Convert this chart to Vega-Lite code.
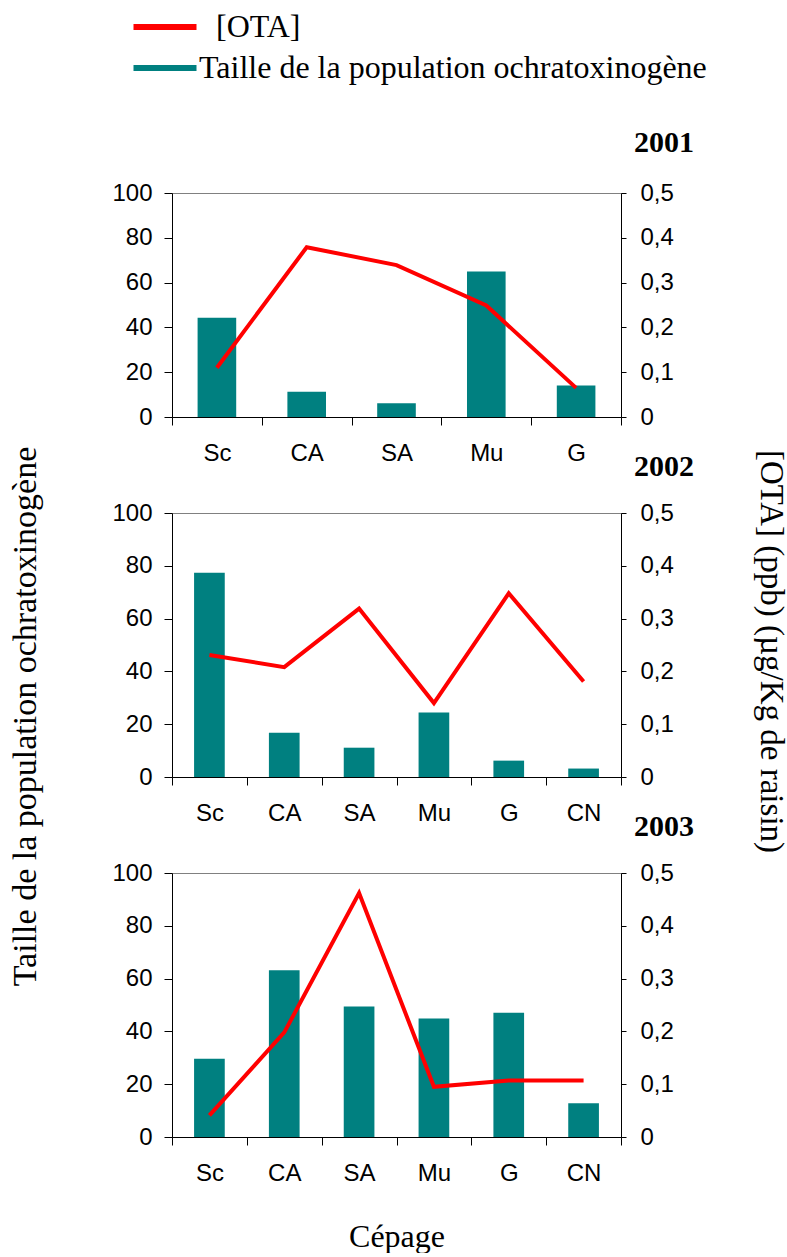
{
  "$schema": "https://vega.github.io/schema/vega-lite/v6.json",
  "background": "white",
  "padding": {"left": 7, "top": 11, "right": 0, "bottom": 0},
  "datasets": {
    "cepages": [
      {"annee": 2001, "cepage": "Sc", "population": 44.3, "ota": 0.110},
      {"annee": 2001, "cepage": "CA", "population": 11.3, "ota": 0.379},
      {"annee": 2001, "cepage": "SA", "population": 6.1, "ota": 0.339},
      {"annee": 2001, "cepage": "Mu", "population": 65.0, "ota": 0.249},
      {"annee": 2001, "cepage": "G", "population": 14.1, "ota": 0.065},
      {"annee": 2002, "cepage": "Sc", "population": 77.4, "ota": 0.231},
      {"annee": 2002, "cepage": "CA", "population": 16.8, "ota": 0.208},
      {"annee": 2002, "cepage": "SA", "population": 11.1, "ota": 0.319},
      {"annee": 2002, "cepage": "Mu", "population": 24.4, "ota": 0.140},
      {"annee": 2002, "cepage": "G", "population": 6.2, "ota": 0.348},
      {"annee": 2002, "cepage": "CN", "population": 3.2, "ota": 0.181},
      {"annee": 2003, "cepage": "Sc", "population": 29.6, "ota": 0.041},
      {"annee": 2003, "cepage": "CA", "population": 63.2, "ota": 0.198},
      {"annee": 2003, "cepage": "SA", "population": 49.4, "ota": 0.462},
      {"annee": 2003, "cepage": "Mu", "population": 44.9, "ota": 0.095},
      {"annee": 2003, "cepage": "G", "population": 47.1, "ota": 0.107},
      {"annee": 2003, "cepage": "CN", "population": 12.8, "ota": 0.107}
    ]
  },
  "data": {"name": "cepages"},
  "config": {
    "view": {"stroke": "#808080", "strokeWidth": 1},
    "axis": {
      "domainColor": "black", "domainWidth": 1,
      "tickColor": "black", "tickWidth": 1,
      "labelColor": "black", "labelFont": "Liberation Sans", "labelFontSize": 24,
      "titleColor": "black", "titleFont": "Liberation Serif", "titleFontSize": 32, "titleFontWeight": "normal",
      "grid": false
    },
    "title": {"font": "Liberation Serif", "fontSize": 30, "fontWeight": "bold", "color": "black"}
  },
  "bounds": "flush",
  "spacing": 96,
  "resolve": {"scale": {"x": "independent", "y": "independent", "color": "shared"}},
  "vconcat": [
    {
      "width": 449, "height": 224,
      "title": {"text": "2001", "anchor": "end", "frame": "group", "offset": 39, "dx": 73, "dy": 40, "baseline": "alphabetic"},
      "transform": [{"filter": "datum.annee == 2001"}],
      "encoding": {
        "x": {"field": "cepage", "type": "nominal", "sort": null,
          "scale": {"paddingInner": 0, "paddingOuter": 0},
          "axis": {"title": null, "tickBand": "extent", "tickSize": 8, "labelPadding": 16, "labelAngle": 0}}
      },
      "layer": [
        {
          "mark": {"type": "bar", "width": {"band": 0.43}},
          "encoding": {
            "y": {"field": "population", "type": "quantitative", "scale": {"domain": [0, 100], "nice": false},
              "axis": {"orient": "left", "values": [0, 20, 40, 60, 80, 100], "tickSize": 8, "labelPadding": 12,
                "title": "Taille de la population ochratoxinogène", "titleFontSize": 34, "titleAngle": -90,
                "titleX": -137, "titleY": 523, "titleBaseline": "alphabetic", "titleAlign": "center"}},
            "color": {"datum": "Taille de la population ochratoxinogène", "type": "nominal",
              "scale": {"domain": ["[OTA]", "Taille de la population ochratoxinogène"], "range": ["#FF0000", "#008080"]},
              "legend": {"orient": "none", "legendX": -23, "legendY": -182, "title": null, "padding": 0,
                "symbolType": "M-3,0H3", "symbolSize": 441, "symbolStrokeWidth": 6,
                "labelFont": "Liberation Serif", "labelFontSize": 32, "labelColor": "black", "labelOffset": 18, "labelLimit": 0,
                "rowPadding": 9,
                "encode": {
                  "symbols": {"update": {"stroke": {"scale": "color", "field": "value"}, "strokeWidth": {"value": 6}}},
                  "labels": {"update": {"dx": {"signal": "indexof(datum.value, 'OTA') >= 0 ? 17 : 0"}}}}}}
          }
        },
        {
          "mark": {"type": "line", "strokeWidth": 4},
          "encoding": {
            "y": {"field": "ota", "type": "quantitative", "scale": {"domain": [0, 0.5], "nice": false},
              "axis": {"orient": "right", "values": [0, 0.1, 0.2, 0.3, 0.4, 0.5], "tickSize": 5, "labelPadding": 14,
                "labelExpr": "datum.value == 0 ? '0' : replace(format(datum.value, '.1f'), '.', ',')",
                "title": "[OTA] (ppb) (µg/Kg de raisin)", "titleFontSize": 33, "titleAngle": 90,
                "titleX": 139, "titleY": 458, "titleBaseline": "alphabetic", "titleAlign": "center"}},
            "color": {"datum": "[OTA]", "type": "nominal",
              "scale": {"domain": ["[OTA]", "Taille de la population ochratoxinogène"], "range": ["#FF0000", "#008080"]},
              "legend": {"orient": "none", "legendX": -23, "legendY": -182, "title": null, "padding": 0,
                "symbolType": "M-3,0H3", "symbolSize": 441, "symbolStrokeWidth": 6,
                "labelFont": "Liberation Serif", "labelFontSize": 32, "labelColor": "black", "labelOffset": 18, "labelLimit": 0,
                "rowPadding": 9,
                "encode": {
                  "symbols": {"update": {"stroke": {"scale": "color", "field": "value"}, "strokeWidth": {"value": 6}}},
                  "labels": {"update": {"dx": {"signal": "indexof(datum.value, 'OTA') >= 0 ? 17 : 0"}}}}}}
          }
        }
      ],
      "resolve": {"scale": {"y": "independent"}}
    },
    {
      "width": 449, "height": 264,
      "title": {"text": "2002", "anchor": "end", "frame": "group", "offset": 39, "dx": 73, "dy": 44, "baseline": "alphabetic"},
      "transform": [{"filter": "datum.annee == 2002"}],
      "encoding": {
        "x": {"field": "cepage", "type": "nominal", "sort": null,
          "scale": {"paddingInner": 0, "paddingOuter": 0},
          "axis": {"title": null, "tickBand": "extent", "tickSize": 8, "labelPadding": 16, "labelAngle": 0}}
      },
      "layer": [
        {
          "mark": {"type": "bar", "width": {"band": 0.41}},
          "encoding": {
            "y": {"field": "population", "type": "quantitative", "scale": {"domain": [0, 100], "nice": false},
              "axis": {"orient": "left", "title": null, "values": [0, 20, 40, 60, 80, 100], "tickSize": 8, "labelPadding": 12}},
            "color": {"datum": "Taille de la population ochratoxinogène", "type": "nominal",
              "scale": {"domain": ["[OTA]", "Taille de la population ochratoxinogène"], "range": ["#FF0000", "#008080"]}}
          }
        },
        {
          "mark": {"type": "line", "strokeWidth": 4},
          "encoding": {
            "y": {"field": "ota", "type": "quantitative", "scale": {"domain": [0, 0.5], "nice": false},
              "axis": {"orient": "right", "title": null, "values": [0, 0.1, 0.2, 0.3, 0.4, 0.5], "tickSize": 5, "labelPadding": 14,
                "labelExpr": "datum.value == 0 ? '0' : replace(format(datum.value, '.1f'), '.', ',')"}},
            "color": {"datum": "[OTA]", "type": "nominal",
              "scale": {"domain": ["[OTA]", "Taille de la population ochratoxinogène"], "range": ["#FF0000", "#008080"]}}
          }
        }
      ],
      "resolve": {"scale": {"y": "independent"}}
    },
    {
      "width": 449, "height": 264,
      "title": {"text": "2003", "anchor": "end", "frame": "group", "offset": 39, "dx": 73, "dy": 44, "baseline": "alphabetic"},
      "transform": [{"filter": "datum.annee == 2003"}],
      "encoding": {
        "x": {"field": "cepage", "type": "nominal", "sort": null,
          "scale": {"paddingInner": 0, "paddingOuter": 0},
          "axis": {"title": "Cépage", "titleY": 109, "titleBaseline": "alphabetic",
            "tickBand": "extent", "tickSize": 8, "labelPadding": 16, "labelAngle": 0}}
      },
      "layer": [
        {
          "mark": {"type": "bar", "width": {"band": 0.41}},
          "encoding": {
            "y": {"field": "population", "type": "quantitative", "scale": {"domain": [0, 100], "nice": false},
              "axis": {"orient": "left", "title": null, "values": [0, 20, 40, 60, 80, 100], "tickSize": 8, "labelPadding": 12}},
            "color": {"datum": "Taille de la population ochratoxinogène", "type": "nominal",
              "scale": {"domain": ["[OTA]", "Taille de la population ochratoxinogène"], "range": ["#FF0000", "#008080"]}}
          }
        },
        {
          "mark": {"type": "line", "strokeWidth": 4},
          "encoding": {
            "y": {"field": "ota", "type": "quantitative", "scale": {"domain": [0, 0.5], "nice": false},
              "axis": {"orient": "right", "title": null, "values": [0, 0.1, 0.2, 0.3, 0.4, 0.5], "tickSize": 5, "labelPadding": 14,
                "labelExpr": "datum.value == 0 ? '0' : replace(format(datum.value, '.1f'), '.', ',')"}},
            "color": {"datum": "[OTA]", "type": "nominal",
              "scale": {"domain": ["[OTA]", "Taille de la population ochratoxinogène"], "range": ["#FF0000", "#008080"]}}
          }
        }
      ],
      "resolve": {"scale": {"y": "independent"}}
    }
  ]
}
